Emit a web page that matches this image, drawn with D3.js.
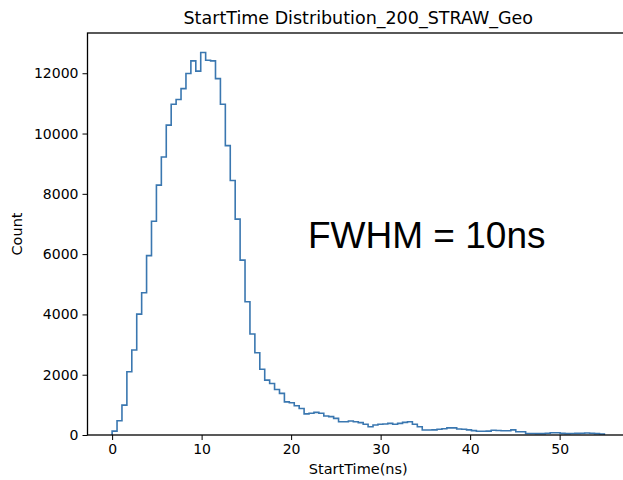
<!DOCTYPE html>
<html>
<head>
  <meta charset="utf-8">
  <title>StartTime Distribution</title>
  <script src="https://d3js.org/d3.v7.min.js"></script>
  <style>
    body { margin: 0; background: #fff; }
    text { font-family: "DejaVu Sans", sans-serif; fill: #000; }
  </style>
</head>
<body>
  <script>
    // histogram: 100 bins of 0.55 ns from 0 to 55 ns
    var binStart = 0;
    var binWidth = 0.55;
    var counts = [
      130, 475, 990, 2100, 2820, 4010, 4720, 5950, 7090, 8290,
      9220, 10280, 10970, 11130, 11490, 11990, 12410, 12070, 12690, 12430,
      12410, 11820, 10970, 9600, 8440, 7160, 5800, 4420, 3350, 2730,
      2180, 1820, 1710, 1510, 1380, 1100, 1070, 970, 880, 700,
      720, 750, 720, 630, 610, 550, 440, 440, 465, 440,
      410, 355, 275, 330, 355, 365, 385, 355, 385, 420,
      440, 355, 275, 165, 165, 170, 190, 205, 235, 235,
      200, 190, 170, 145, 125, 125, 130, 160, 150, 140,
      140, 170, 110, 110, 50, 50, 45, 45, 60, 75,
      75, 55, 45, 50, 55, 60, 65, 60, 45, 35
    ];
    var xTicks = [0, 10, 20, 30, 40, 50];
    var yTicks = [0, 2000, 4000, 6000, 8000, 10000, 12000];

    var w = 623, h = 480;
    var pLeft = 87.5, pRight = 629, pTop = 33, pBottom = 435;

    var svg = d3.select("body").append("svg").attr("width", w).attr("height", h);

    var x = d3.scaleLinear().domain([-2.75, 57.75]).range([pLeft, pRight]);
    var y = d3.scaleLinear().domain([0, 13335]).range([pBottom, pTop]);

    // step outline
    var pts = [[binStart, 0]];
    counts.forEach(function(c, i) {
      pts.push([binStart + i * binWidth, c]);
      pts.push([binStart + (i + 1) * binWidth, c]);
    });
    pts.push([binStart + counts.length * binWidth, 0]);

    svg.append("path")
      .attr("d", d3.line().x(function(d){ return x(d[0]); }).y(function(d){ return y(d[1]); })(pts))
      .attr("fill", "none").attr("stroke", "#3a77b0").attr("stroke-width", 1.6);

    // axes
    var xAxis = d3.axisBottom(x).tickValues(xTicks).tickSize(5).tickPadding(4).tickFormat(d3.format("d"));
    var yAxis = d3.axisLeft(y).tickValues(yTicks).tickSize(5).tickPadding(4).tickFormat(d3.format("d"));

    var gx = svg.append("g").attr("transform", "translate(0," + pBottom + ")").call(xAxis);
    var gy = svg.append("g").attr("transform", "translate(" + pLeft + ",0)").call(yAxis);
    [gx, gy].forEach(function(g) {
      g.select(".domain").remove();
      g.attr("font-size", 14).attr("font-family", "DejaVu Sans");
      g.selectAll("line").attr("stroke", "#000").attr("stroke-width", 1);
      g.selectAll("text").attr("fill", "#000");
    });

    // spines
    svg.append("rect").attr("x", pLeft).attr("y", pTop)
      .attr("width", pRight - pLeft).attr("height", pBottom - pTop)
      .attr("fill", "none").attr("stroke", "#000").attr("stroke-width", 1.3);

    // labels
    svg.append("text").attr("x", (pLeft + pRight) / 2).attr("y", 24)
      .attr("text-anchor", "middle").attr("font-size", 17.5)
      .text("StartTime Distribution_200_STRAW_Geo");
    svg.append("text").attr("x", (pLeft + pRight) / 2).attr("y", 474)
      .attr("text-anchor", "middle").attr("font-size", 14.5)
      .text("StartTime(ns)");
    svg.append("text").attr("transform", "translate(22," + ((pTop + pBottom) / 2) + ") rotate(-90)")
      .attr("text-anchor", "middle").attr("font-size", 14.5)
      .text("Count");

    svg.append("text").attr("x", 308).attr("y", 248)
      .style("font-family", "'Liberation Sans', Arial, sans-serif").attr("font-size", 37)
      .text("FWHM = 10ns");
  </script>
</body>
</html>
